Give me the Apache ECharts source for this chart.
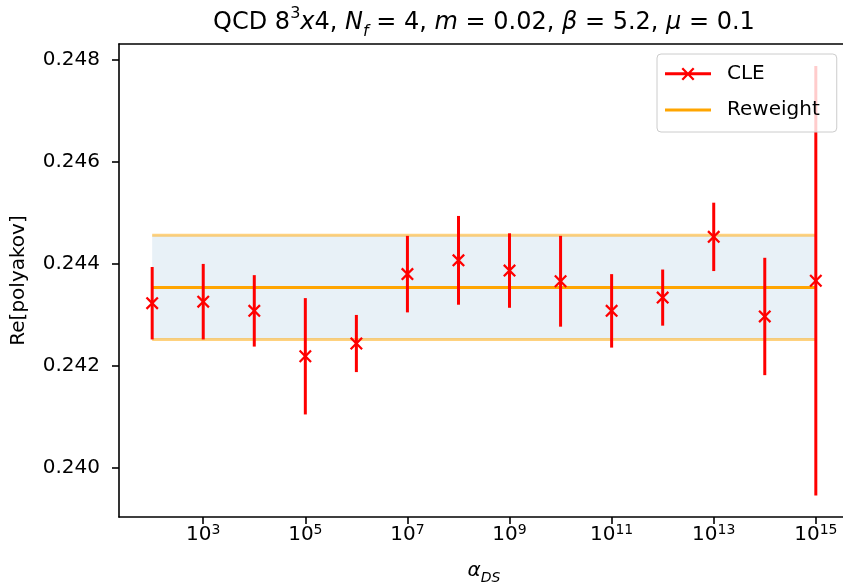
<!DOCTYPE html>
<html>
<head>
<meta charset="utf-8">
<script src="https://cdn.jsdelivr.net/npm/echarts@6/dist/echarts.min.js"></script>
<style>html,body{margin:0;padding:0;background:#fff;}#chart{width:843px;height:586px;}</style>
</head>
<body>
<div id="chart"></div>
<script>
// alpha_DS values given as base-10 exponents (alpha = 10^exp)
var alphaExp = [2, 3, 4, 5, 6, 7, 8, 9, 10, 11, 12, 13, 14, 15];
var cleMean = [0.24323, 0.24326, 0.24308, 0.24219, 0.24244, 0.24380, 0.24407, 0.24387, 0.24366, 0.24308, 0.24334, 0.24453, 0.24297, 0.24367];
var cleErr  = [0.00071, 0.00074, 0.00070, 0.00114, 0.00056, 0.00075, 0.00087, 0.00073, 0.00089, 0.00072, 0.00055, 0.00067, 0.00115, 0.00421];
var reweightMean = 0.24354;
var reweightErr = 0.00102;
var xTickExp = [3, 5, 7, 9, 11, 13, 15];
var yTicks = [0.240, 0.242, 0.244, 0.246, 0.248];

var FONT = 'DejaVu Sans';
var xMin = 1.35, xMax = 15.65, yMin = 0.23904, yMax = 0.24831;
var xSpan = [alphaExp[0], alphaExp[alphaExp.length - 1]];

var crossPath = 'path://M0,1.6L1.6,0L6.5,4.9L11.4,0L13,1.6L8.1,6.5L13,11.4L11.4,13L6.5,8.1L1.6,13L0,11.4L4.9,6.5Z';
var cleIcon = 'path://M0,4.75h46v3h-46z M16.5,1.6L18.1,0L23,4.9L27.9,0L29.5,1.6L24.6,6.5L29.5,11.4L27.9,13L23,8.1L18.1,13L16.5,11.4L21.4,6.5Z';
var rwIcon = 'path://M0,0h46v3h-46z';

var chart = echarts.init(document.getElementById('chart'), null, {renderer: 'canvas'});

var axisCommon = {
  axisLine: {show: true, lineStyle: {color: '#000', width: 1.6}},
  splitLine: {show: false}
};

var option = {
  backgroundColor: '#fff',
  animation: false,
  title: {
    text: 'QCD 8{sup|3}{i|x}4, {i|N}{sub|f} = 4, {i|m} = 0.02, {i|β} = 5.2, {i|μ} = 0.1',
    left: 484,
    top: 6,
    padding: 0,
    textAlign: 'center',
    textStyle: {
      fontFamily: FONT, fontSize: 24, fontWeight: 'normal', color: '#000', lineHeight: 34,
      rich: {
        sup: {fontFamily: FONT, fontSize: 16, lineHeight: 16, verticalAlign: 'top', color: '#000'},
        sub: {fontFamily: FONT, fontSize: 16, lineHeight: 24, verticalAlign: 'bottom', fontStyle: 'italic', color: '#000'},
        i: {fontFamily: FONT, fontSize: 24, lineHeight: 34, fontStyle: 'italic', color: '#000'}
      }
    }
  },
  legend: {
    orient: 'vertical',
    left: 657,
    top: 54,
    padding: [10, 17, 12, 8],
    itemWidth: 46,
    itemHeight: 16,
    itemGap: 16,
    backgroundColor: 'rgba(255,255,255,0.8)',
    borderColor: '#cccccc',
    borderWidth: 1,
    borderRadius: 4,
    textStyle: {fontFamily: FONT, fontSize: 20, color: '#000', padding: [0, 0, 0, 11]},
    data: [
      {name: 'CLE', icon: cleIcon},
      {name: 'Reweight', icon: rwIcon}
    ]
  },
  grid: {left: 119, top: 44, width: 730, height: 473, containLabel: false, outerBoundsMode: 'none'},
  xAxis: [
    Object.assign({}, axisCommon, {
      type: 'value', position: 'bottom', min: xMin, max: xMax,
      axisTick: {show: true, length: 7, lineStyle: {color: '#000', width: 1.6}, customValues: xTickExp},
      axisLabel: {
        show: true, margin: 6, customValues: xTickExp,
        formatter: function (v) { return '10{sup|' + Math.round(v) + '}'; },
        fontFamily: FONT, fontSize: 20, color: '#000', lineHeight: 24,
        rich: {sup: {fontFamily: FONT, fontSize: 14, lineHeight: 14, verticalAlign: 'top', color: '#000'}}
      },
      name: '{i|α}{sub|DS}',
      nameLocation: 'middle',
      nameGap: 40,
      nameTextStyle: {
        fontFamily: FONT, fontSize: 20, color: '#000', lineHeight: 28,
        rich: {
          i: {fontFamily: FONT, fontSize: 20, lineHeight: 28, fontStyle: 'italic', color: '#000'},
          sub: {fontFamily: FONT, fontSize: 14, lineHeight: 20, verticalAlign: 'bottom', fontStyle: 'italic', color: '#000'}
        }
      }
    }),
    Object.assign({}, axisCommon, {
      type: 'value', position: 'top', min: xMin, max: xMax,
      axisTick: {show: false}, axisLabel: {show: false}
    })
  ],
  yAxis: Object.assign({}, axisCommon, {
    type: 'value', min: yMin, max: yMax,
    axisTick: {show: true, length: 7, lineStyle: {color: '#000', width: 1.6}, customValues: yTicks},
    axisLabel: {
      show: true, margin: 19, customValues: yTicks,
      formatter: function (v) { return v.toFixed(3); },
      fontFamily: FONT, fontSize: 20, color: '#000'
    },
    name: 'Re[polyakov]',
    nameLocation: 'middle',
    nameRotate: 90,
    nameGap: 90,
    nameTextStyle: {fontFamily: FONT, fontSize: 20, color: '#000', lineHeight: 20}
  }),
  series: [
    {
      name: 'band', type: 'custom', silent: true, z: 1,
      data: [[xSpan[0], xSpan[1], reweightMean - reweightErr, reweightMean + reweightErr]],
      encode: {x: [0, 1], y: [2, 3]},
      renderItem: function (params, api) {
        var a = api.coord([api.value(0), api.value(2)]);
        var b = api.coord([api.value(1), api.value(3)]);
        var edge = {stroke: 'rgba(255,165,0,0.5)', lineWidth: 3};
        return {
          type: 'group',
          children: [
            {type: 'rect', shape: {x: a[0], y: b[1], width: b[0] - a[0], height: a[1] - b[1]},
             style: {fill: 'rgba(31,119,180,0.1)'}},
            {type: 'line', shape: {x1: a[0], y1: a[1], x2: b[0], y2: a[1]}, style: edge},
            {type: 'line', shape: {x1: a[0], y1: b[1], x2: b[0], y2: b[1]}, style: edge}
          ]
        };
      }
    },
    {
      name: 'Reweight', type: 'line', symbol: 'none', z: 2,
      data: xSpan.map(function (x) { return [x, reweightMean]; }),
      itemStyle: {color: '#ffa500'},
      lineStyle: {color: '#ffa500', width: 3}
    },
    {
      name: 'CLE errors', type: 'custom', z: 3,
      data: alphaExp.map(function (a, i) { return [a, cleMean[i], cleErr[i]]; }),
      encode: {x: 0, y: 1},
      renderItem: function (params, api) {
        var x = api.value(0), m = api.value(1), e = api.value(2);
        var p1 = api.coord([x, m - e]);
        var p2 = api.coord([x, m + e]);
        return {
          type: 'line',
          shape: {x1: p1[0], y1: p1[1], x2: p2[0], y2: p2[1]},
          style: {stroke: '#ff0000', lineWidth: 3}
        };
      }
    },
    {
      name: 'CLE', type: 'scatter', z: 4,
      symbol: crossPath, symbolSize: 13,
      itemStyle: {color: '#ff0000', opacity: 1},
      data: alphaExp.map(function (a, i) { return [a, cleMean[i]]; })
    }
  ]
};
chart.setOption(option);
</script>
</body>
</html>
